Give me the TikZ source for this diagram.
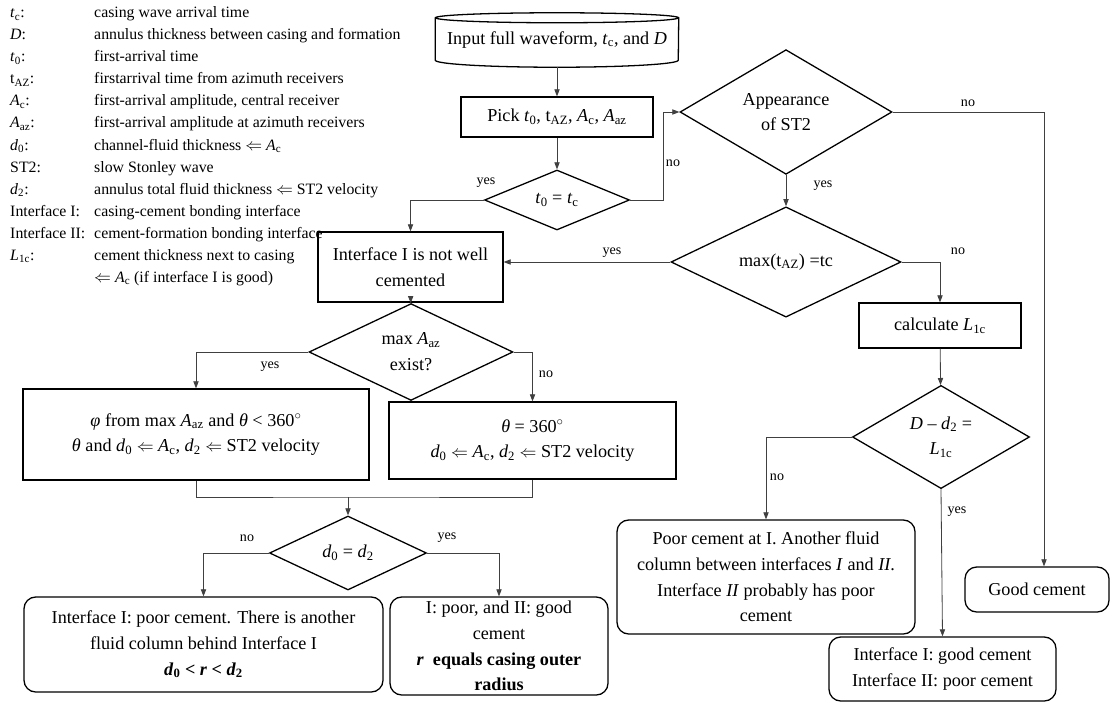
\documentclass[tikz,border=0pt]{standalone}
\usepackage{fontspec}
\setmainfont{Liberation Serif}
\usetikzlibrary{shapes.geometric,arrows.meta,calc}
\newcommand\vsub[2]{\textit{#1}\textsubscript{#2}}
\begin{document}
\begin{tikzpicture}[x=0.03cm,y=-0.03cm,
  box/.style={draw,line width=1.1pt,align=center,inner sep=2pt,font=\fontsize{15.5}{22}\selectfont},
  rbox/.style={box,rounded corners=10pt},
  test/.style={draw,diamond,line width=1.1pt,align=center,inner sep=0pt,font=\fontsize{15.5}{22}\selectfont},
  link/.style={draw=black!75,line width=0.7pt},
  arr/.style={link,-{Triangle[length=6pt,width=4.5pt]}},
  lab/.style={inner sep=0pt,font=\fontsize{12}{14}\selectfont},
  key/.style={anchor=base west,inner sep=0pt,font=\fontsize{13.5}{16}\selectfont}]
\pgfmathsetlengthmacro\pxl{0.03cm}
\useasboundingbox (0,0) rectangle (1112,702);
\foreach \k/\d [count=\i] in {
  {\vsub{t}{c}:}/{casing wave arrival time},
  {\textit{D}:}/{annulus thickness between casing and formation},
  {\vsub{t}{0}:}/{first-arrival time},
  {t\textsubscript{AZ}:}/{firstarrival time from azimuth receivers},
  {\vsub{A}{c}:}/{first-arrival amplitude, central receiver},
  {\vsub{A}{az}:}/{first-arrival amplitude at azimuth receivers},
  {\vsub{d}{0}:}/{channel-fluid thickness $\Leftarrow$ \vsub{A}{c}},
  {ST2:}/{slow Stonley wave},
  {\vsub{d}{2}:}/{annulus total fluid thickness $\Leftarrow$ ST2 velocity},
  {Interface I:}/{casing-cement bonding interface},
  {Interface II:}/{cement-formation bonding interface},
  {\vsub{L}{1c}:}/{cement thickness next to casing},
  {}/{$\Leftarrow$ \vsub{A}{c} (if interface I is good)}} {
  \node[key] (key\i) at (10,{18+22*(\i-1)}) {\k};
  \node[key] (desc\i) at (94,{18+22*(\i-1)}) {\d};
}
\node[align=center,font=\fontsize{15.5}{22}\selectfont,minimum width=243*\pxl,minimum height=54*\pxl] (input) at (557,40) {Input full waveform, \vsub{t}{c}, and \textit{D}};
\draw[line width=1.1pt] ([yshift=-5*\pxl]input.north) ellipse [x radius=121.5*\pxl, y radius=5*\pxl];
\draw[line width=1.1pt] ([yshift=-5*\pxl]input.north west) -- ([yshift=7*\pxl]input.south west) arc [start angle=180, end angle=360, x radius=121.5*\pxl, y radius=7*\pxl] -- ([yshift=-5*\pxl]input.north east);
\node[box,minimum width=192*\pxl,minimum height=40*\pxl] (pick) at (557,117) {Pick \vsub{t}{0}, t\textsubscript{AZ}, \vsub{A}{c}, \vsub{A}{az}};
\node[test,minimum width=145*\pxl,minimum height=60*\pxl] (t0tc) at (557,200) {\vsub{t}{0} = \vsub{t}{c}};
\node[test,minimum width=212*\pxl,minimum height=92*\pxl] (appear) at (786,112) {Appearance\\of ST2};
\node[box,minimum width=185*\pxl,minimum height=70*\pxl] (iface) at (410.5,267) {Interface I is not well\\cemented};
\node[test,minimum width=230*\pxl,minimum height=96*\pxl] (maxtaz) at (786,262) {max(t\textsubscript{AZ}) =tc};
\node[box,minimum width=162*\pxl,minimum height=45*\pxl] (calcl) at (940,325.5) {calculate \vsub{L}{1c}};
\node[test,minimum width=177*\pxl,minimum height=82*\pxl] (dd) at (941,437) {\textit{D} – \vsub{d}{2} =\\\vsub{L}{1c}};
\node[test,minimum width=204*\pxl,minimum height=74*\pxl] (maxaaz) at (411,352) {max \vsub{A}{az}\\exist?};
\node[box,minimum width=346*\pxl,minimum height=91*\pxl] (phibox) at (196,434.5) {\textit{φ} from max \vsub{A}{az} and \textit{θ} < 360$^\circ$\\\textit{θ} and \vsub{d}{0} $\Leftarrow$ \vsub{A}{c}, \vsub{d}{2} $\Leftarrow$ ST2 velocity};
\node[box,minimum width=287*\pxl,minimum height=77*\pxl] (thetabox) at (532.5,440.5) {\textit{θ} = 360$^\circ$\\\vsub{d}{0} $\Leftarrow$ \vsub{A}{c}, \vsub{d}{2} $\Leftarrow$ ST2 velocity};
\node[test,minimum width=157*\pxl,minimum height=74*\pxl] (d0d2) at (348,553) {\vsub{d}{0} = \vsub{d}{2}};
\node[rbox,minimum width=359*\pxl,minimum height=95*\pxl] (poorI) at (203.5,644.5) {Interface I: poor cement. There is another\\fluid column behind Interface I\\\textbf{\vsub{d}{0} < \textit{r} < \vsub{d}{2}}};
\node[rbox,minimum width=218*\pxl,minimum height=98*\pxl] (goodII) at (499,646) {I: poor, and II: good\\cement\\\textbf{\textit{r}\ \ equals casing outer}\\\textbf{radius}};
\node[rbox,minimum width=298*\pxl,minimum height=114*\pxl] (poorII) at (766,577) {Poor cement at I. Another fluid\\column between interfaces \textit{I} and \textit{II}.\\Interface \textit{II} probably has poor\\cement};
\node[rbox,minimum width=227*\pxl,minimum height=64*\pxl] (goodI) at (942.5,669) {Interface I: good cement\\Interface II: poor cement};
\node[rbox,minimum width=144*\pxl,minimum height=45*\pxl] (goodcem) at (1037,589.5) {Good cement};
\draw[arr] (input) -- (pick);
\draw[arr] (pick) -- (t0tc);
\draw[arr] (t0tc.west) -| (iface.north);
\draw[arr] (t0tc.east) -- ++(33,0) |- (appear.west);
\draw[arr] (appear.east) -| ($(goodcem.north)+(7,0)$);
\draw[arr] (appear) -- (maxtaz);
\draw[arr] (maxtaz.west) -- (maxtaz.west -| iface.east);
\draw[arr] (maxtaz.east) -| (calcl.north);
\draw[arr] (calcl) -- (dd);
\draw[arr] (dd.west) -| (poorII.north);
\draw[arr] (dd.south) -- (goodI.north);
\draw[arr] (iface) -- (maxaaz);
\draw[arr] (maxaaz.west) -| (phibox.north);
\draw[arr] (maxaaz.east) -| (thetabox.north);
\coordinate (merge) at (348,497);
\draw[link] (phibox.south) |- (merge) -| (thetabox.south);
\draw[arr] (merge) -- (d0d2);
\draw[arr] (d0d2.west) -| (poorI.north);
\draw[arr] (d0d2.east) -| (goodII.north);
\foreach \x/\y/\t [count=\i] in {486/183/yes, 673/163/no, 968/103/no, 823/186/yes, 612/253/yes, 958/251/no, 777/477/no, 957/512/yes, 270/367/yes, 546/374/no, 247/538/no, 447/538/yes}
  \node[lab] (lab\i) at (\x,\y) {\t};
\end{tikzpicture}
\end{document}
